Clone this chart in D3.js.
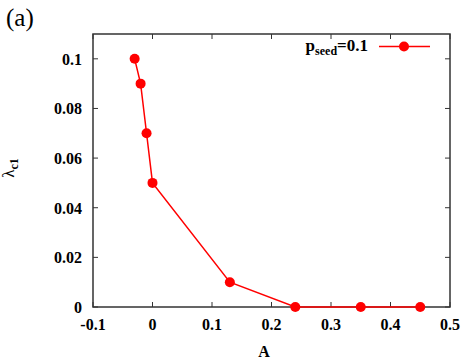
<!DOCTYPE html>
<html><head><meta charset="utf-8">
<script src="https://cdn.jsdelivr.net/npm/d3@7"></script>
<style>body{margin:0;background:#fff}svg{display:block}</style>
</head><body>
<script>
const A = [-0.03, -0.02, -0.01, 0, 0.13, 0.24, 0.35, 0.45];
const lambda = [0.1, 0.09, 0.07, 0.05, 0.01, 0, 0, 0];
const xTicks = [-0.1, 0, 0.1, 0.2, 0.3, 0.4, 0.5];
const yTicks = [0, 0.02, 0.04, 0.06, 0.08, 0.1];
const xTickLabels = ["-0.1", "0", "0.1", "0.2", "0.3", "0.4", "0.5"];
const yTickLabels = ["0", "0.02", "0.04", "0.06", "0.08", "0.1"];

const W = 461, H = 364;
const m = {l: 93, r: 450, t: 34, b: 307};
const FONT = "'Liberation Serif', 'Times New Roman', Times, 'DejaVu Serif', serif";
const svg = d3.select("body").append("svg").attr("width", W).attr("height", H)
  .attr("font-family", FONT).style("font-family", FONT);
const x = d3.scaleLinear().domain([-0.1, 0.5]).range([m.l, m.r]);
const y = d3.scaleLinear().domain([0, 0.11]).range([m.b, m.t]);
const frame = "#333";

// ticks (inward, all four sides)
const tl = 5;
const g = svg.append("g");
xTicks.forEach(v => {
  g.append("line").attr("x1", x(v)).attr("x2", x(v)).attr("y1", m.b).attr("y2", m.b - tl).attr("stroke", frame);
  g.append("line").attr("x1", x(v)).attr("x2", x(v)).attr("y1", m.t).attr("y2", m.t + tl).attr("stroke", frame);
});
yTicks.forEach(v => {
  g.append("line").attr("y1", y(v)).attr("y2", y(v)).attr("x1", m.l).attr("x2", m.l + tl).attr("stroke", frame);
  g.append("line").attr("y1", y(v)).attr("y2", y(v)).attr("x1", m.r).attr("x2", m.r - tl).attr("stroke", frame);
});
g.append("rect").attr("x", m.l).attr("y", m.t).attr("width", m.r - m.l).attr("height", m.b - m.t)
  .attr("fill", "none").attr("stroke", frame).attr("stroke-width", 1.5);

// tick labels
xTicks.forEach((v, i) => {
  svg.append("text").attr("x", x(v)).attr("y", 330).attr("text-anchor", "middle")
    .attr("font-size", 16).attr("font-weight", "bold").text(xTickLabels[i]);
});
yTicks.forEach((v, i) => {
  svg.append("text").attr("x", 82).attr("y", y(v) + 6).attr("text-anchor", "end")
    .attr("font-size", 16).attr("font-weight", "bold").text(yTickLabels[i]);
});

// axis labels
svg.append("text").attr("x", 264).attr("y", 357).attr("text-anchor", "middle")
  .attr("font-size", 16).attr("font-weight", "bold").text("A");
const yl = svg.append("text").attr("transform", "translate(14,168) rotate(-90)").attr("text-anchor", "middle");
yl.append("tspan").attr("font-size", 17).text("λ");
yl.append("tspan").attr("font-size", 12).attr("font-weight", "bold").attr("dy", 4).text("c1");

// panel label
svg.append("text").attr("x", 6).attr("y", 26).attr("font-size", 25).text("(a)");

// data
const line = d3.line().x((d, i) => x(A[i])).y(d => y(d));
svg.append("path").datum(lambda).attr("d", line).attr("fill", "none").attr("stroke", "#ff0000").attr("stroke-width", 1.5);
svg.selectAll("circle.pt").data(lambda).enter().append("circle").attr("class", "pt")
  .attr("cx", (d, i) => x(A[i])).attr("cy", d => y(d)).attr("r", 5).attr("fill", "#ff0000");

// legend
const lt = svg.append("text").attr("x", 368).attr("y", 51).attr("text-anchor", "end").attr("font-weight", "bold");
lt.append("tspan").attr("font-size", 17).text("p");
lt.append("tspan").attr("font-size", 12).attr("dy", 4).text("seed");
lt.append("tspan").attr("font-size", 17).attr("dy", -4).text("=0.1");
svg.append("line").attr("x1", 379).attr("x2", 430).attr("y1", 46.5).attr("y2", 46.5).attr("stroke", "#ff0000").attr("stroke-width", 1.5);
svg.append("circle").attr("cx", 404).attr("cy", 46.5).attr("r", 5).attr("fill", "#ff0000");
</script>
</body></html>
